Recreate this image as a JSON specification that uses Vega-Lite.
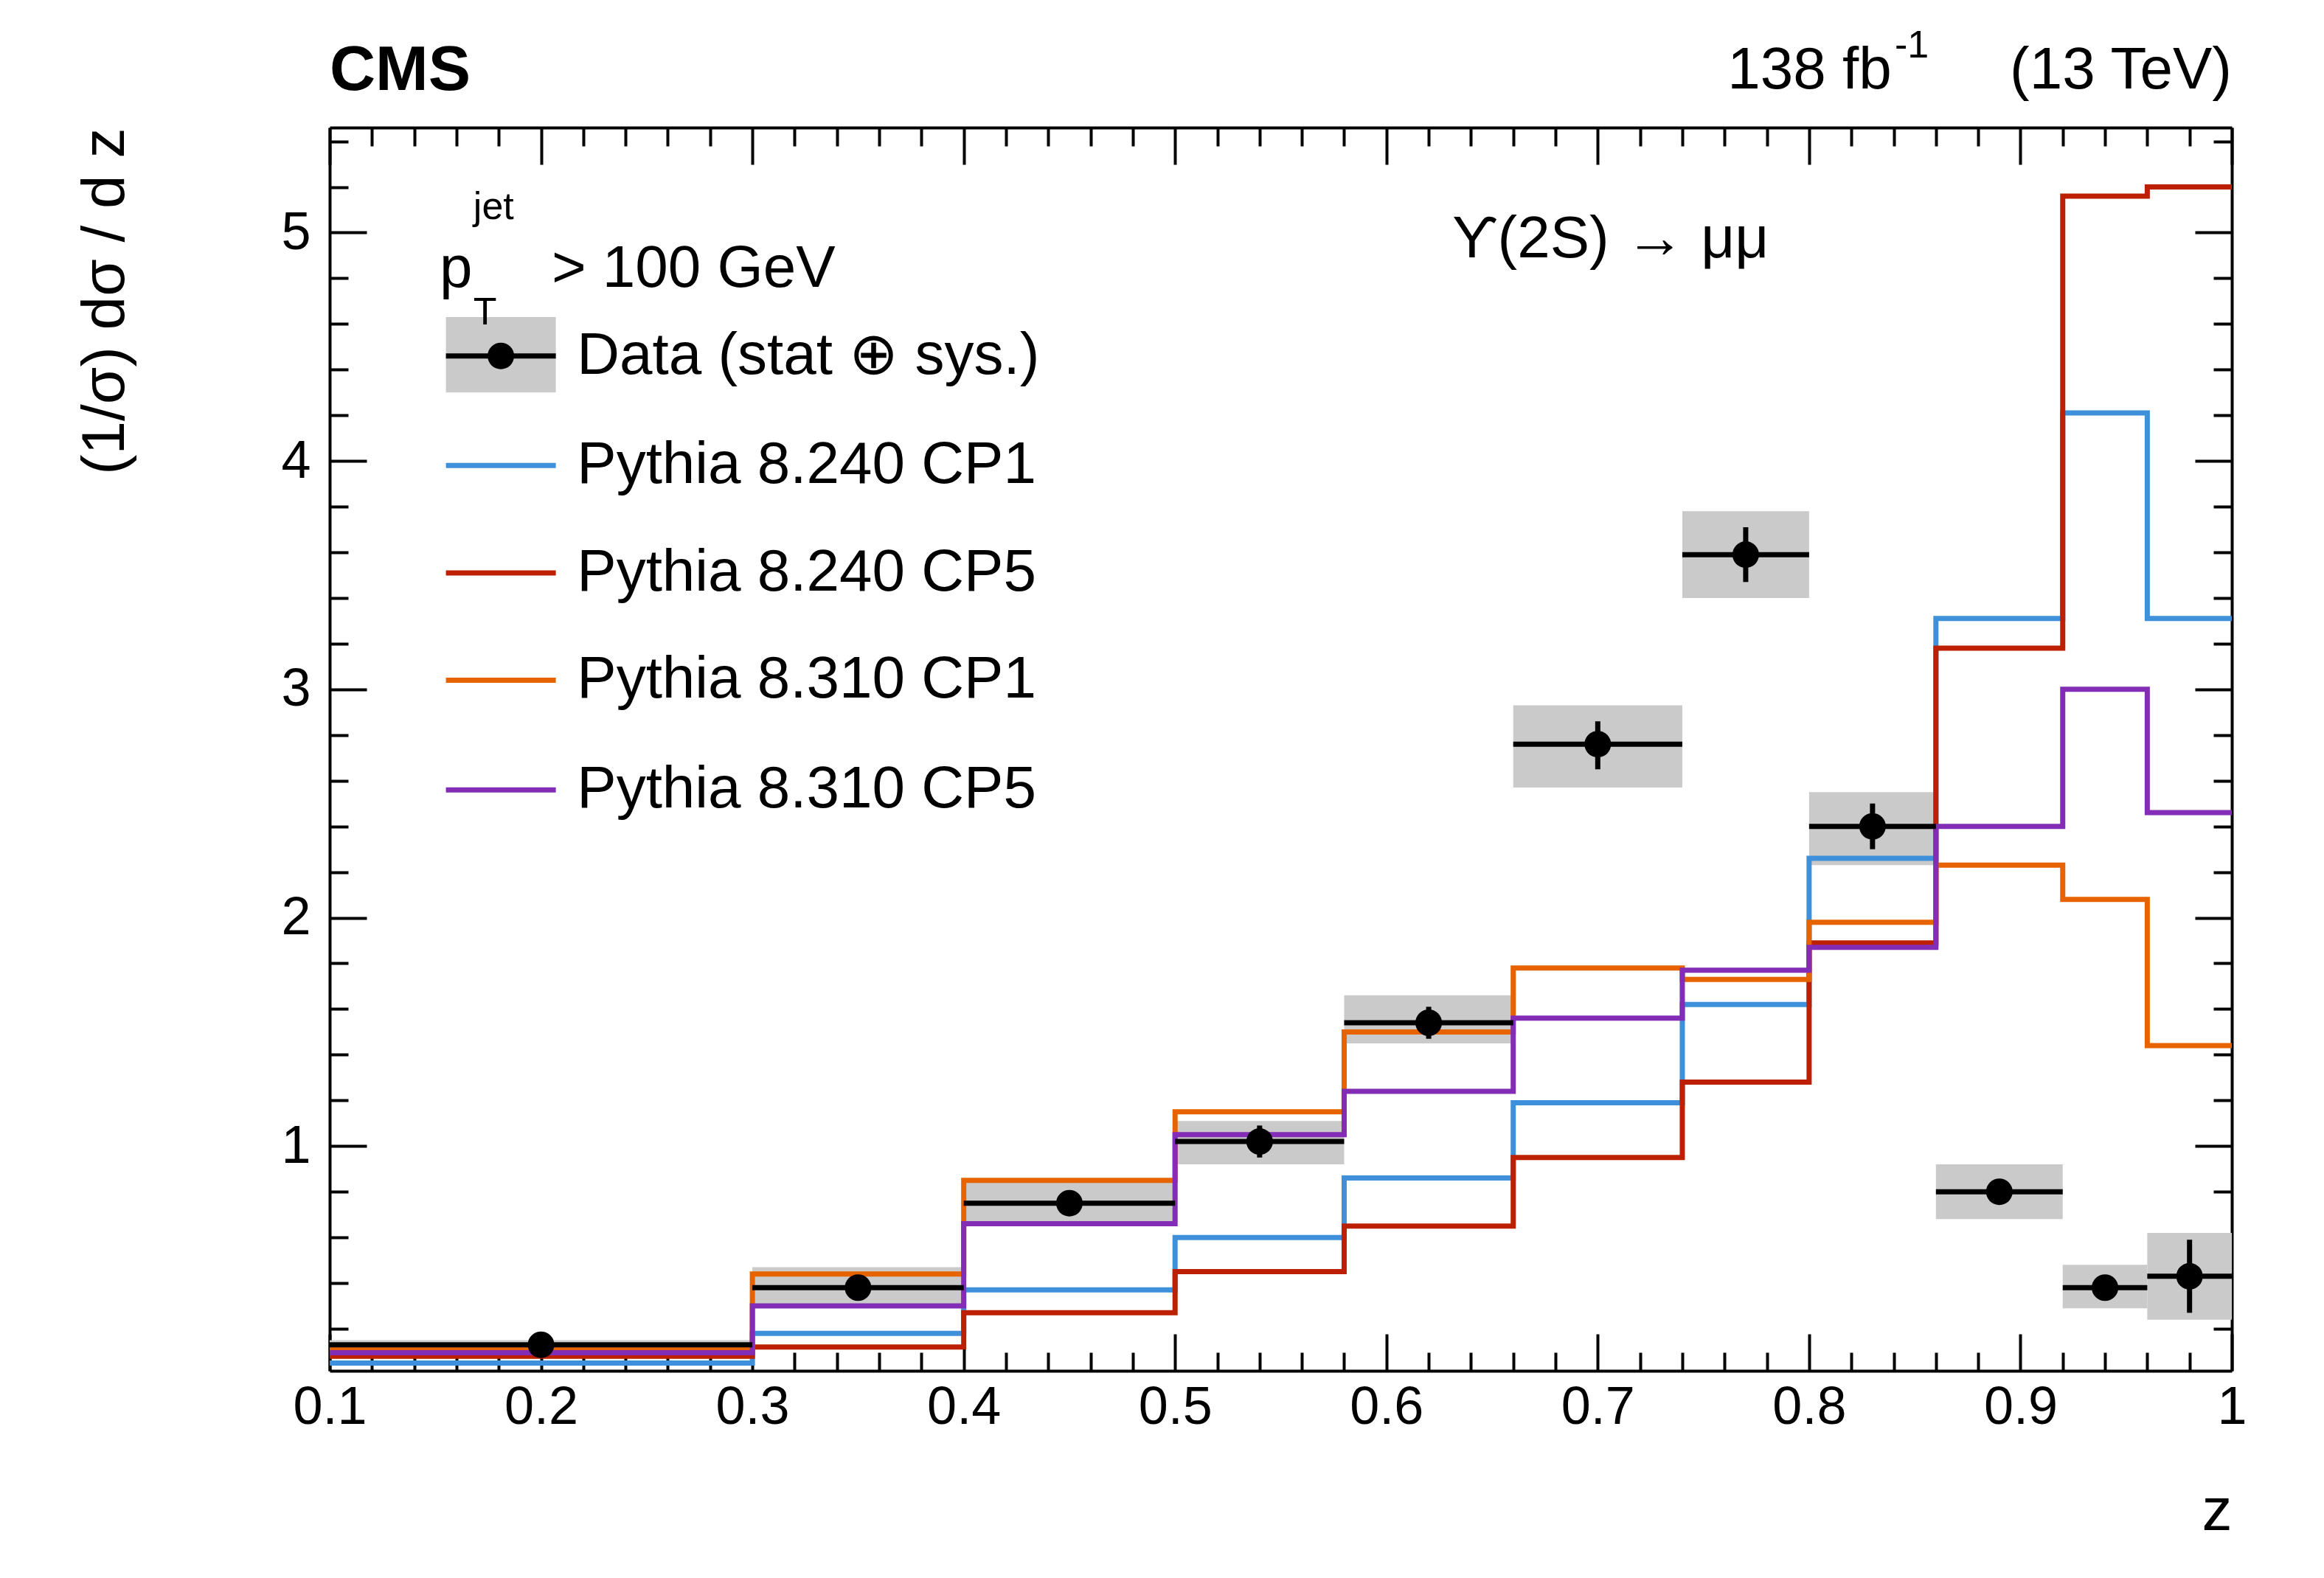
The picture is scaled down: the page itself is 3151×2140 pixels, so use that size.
{
  "$schema": "https://vega.github.io/schema/vega-lite/v6.json",
  "width": 2579,
  "height": 1686,
  "autosize": "none",
  "padding": {"left": 447, "top": 173, "right": 125, "bottom": 281},
  "background": "white",
  "config": {
    "font": "Liberation Sans",
    "view": {"stroke": null},
    "axis": {"domainColor": "black", "domainWidth": 4, "tickColor": "black", "tickWidth": 4, "grid": false, "labelFont": "Liberation Sans", "labelFontSize": 72, "labelColor": "black", "titleFont": "Liberation Sans", "titleColor": "black", "titleFontWeight": "normal", "titleFontSize": 82}
  },
  "datasets": {
    "data": [
      {"x": 0.2, "lo": 0.1, "hi": 0.3, "y": 0.13, "eLow": 0.09, "eHigh": 0.17, "bLow": 0.09, "bHigh": 0.15},
      {"x": 0.35, "lo": 0.3, "hi": 0.4, "y": 0.38, "eLow": 0.33, "eHigh": 0.43, "bLow": 0.3, "bHigh": 0.47},
      {"x": 0.45, "lo": 0.4, "hi": 0.5, "y": 0.75, "eLow": 0.7, "eHigh": 0.8, "bLow": 0.65, "bHigh": 0.85},
      {"x": 0.54, "lo": 0.5, "hi": 0.58, "y": 1.02, "eLow": 0.95, "eHigh": 1.09, "bLow": 0.92, "bHigh": 1.11},
      {"x": 0.62, "lo": 0.58, "hi": 0.66, "y": 1.54, "eLow": 1.47, "eHigh": 1.61, "bLow": 1.45, "bHigh": 1.66},
      {"x": 0.7, "lo": 0.66, "hi": 0.74, "y": 2.76, "eLow": 2.65, "eHigh": 2.86, "bLow": 2.57, "bHigh": 2.93},
      {"x": 0.77, "lo": 0.74, "hi": 0.8, "y": 3.59, "eLow": 3.47, "eHigh": 3.71, "bLow": 3.4, "bHigh": 3.78},
      {"x": 0.83, "lo": 0.8, "hi": 0.86, "y": 2.4, "eLow": 2.3, "eHigh": 2.5, "bLow": 2.23, "bHigh": 2.55},
      {"x": 0.89, "lo": 0.86, "hi": 0.92, "y": 0.8, "eLow": 0.75, "eHigh": 0.85, "bLow": 0.68, "bHigh": 0.92},
      {"x": 0.94, "lo": 0.92, "hi": 0.96, "y": 0.38, "eLow": 0.34, "eHigh": 0.42, "bLow": 0.29, "bHigh": 0.48},
      {"x": 0.98, "lo": 0.96, "hi": 1.0, "y": 0.43, "eLow": 0.27, "eHigh": 0.59, "bLow": 0.24, "bHigh": 0.62}
    ],
    "hist": [
      {"s": "Pythia 8.240 CP1", "x": 0.1, "y": 0.05}, {"s": "Pythia 8.240 CP1", "x": 0.3, "y": 0.18}, {"s": "Pythia 8.240 CP1", "x": 0.4, "y": 0.37}, {"s": "Pythia 8.240 CP1", "x": 0.5, "y": 0.6}, {"s": "Pythia 8.240 CP1", "x": 0.58, "y": 0.86}, {"s": "Pythia 8.240 CP1", "x": 0.66, "y": 1.19}, {"s": "Pythia 8.240 CP1", "x": 0.74, "y": 1.62}, {"s": "Pythia 8.240 CP1", "x": 0.8, "y": 2.26}, {"s": "Pythia 8.240 CP1", "x": 0.86, "y": 3.31}, {"s": "Pythia 8.240 CP1", "x": 0.92, "y": 4.21}, {"s": "Pythia 8.240 CP1", "x": 0.96, "y": 3.31}, {"s": "Pythia 8.240 CP1", "x": 1.0, "y": 3.31},
      {"s": "Pythia 8.240 CP5", "x": 0.1, "y": 0.08}, {"s": "Pythia 8.240 CP5", "x": 0.3, "y": 0.12}, {"s": "Pythia 8.240 CP5", "x": 0.4, "y": 0.27}, {"s": "Pythia 8.240 CP5", "x": 0.5, "y": 0.45}, {"s": "Pythia 8.240 CP5", "x": 0.58, "y": 0.65}, {"s": "Pythia 8.240 CP5", "x": 0.66, "y": 0.95}, {"s": "Pythia 8.240 CP5", "x": 0.74, "y": 1.28}, {"s": "Pythia 8.240 CP5", "x": 0.8, "y": 1.89}, {"s": "Pythia 8.240 CP5", "x": 0.86, "y": 3.18}, {"s": "Pythia 8.240 CP5", "x": 0.92, "y": 5.16}, {"s": "Pythia 8.240 CP5", "x": 0.96, "y": 5.2}, {"s": "Pythia 8.240 CP5", "x": 1.0, "y": 5.2},
      {"s": "Pythia 8.310 CP1", "x": 0.1, "y": 0.11}, {"s": "Pythia 8.310 CP1", "x": 0.3, "y": 0.44}, {"s": "Pythia 8.310 CP1", "x": 0.4, "y": 0.85}, {"s": "Pythia 8.310 CP1", "x": 0.5, "y": 1.15}, {"s": "Pythia 8.310 CP1", "x": 0.58, "y": 1.5}, {"s": "Pythia 8.310 CP1", "x": 0.66, "y": 1.78}, {"s": "Pythia 8.310 CP1", "x": 0.74, "y": 1.73}, {"s": "Pythia 8.310 CP1", "x": 0.8, "y": 1.98}, {"s": "Pythia 8.310 CP1", "x": 0.86, "y": 2.23}, {"s": "Pythia 8.310 CP1", "x": 0.92, "y": 2.08}, {"s": "Pythia 8.310 CP1", "x": 0.96, "y": 1.44}, {"s": "Pythia 8.310 CP1", "x": 1.0, "y": 1.44},
      {"s": "Pythia 8.310 CP5", "x": 0.1, "y": 0.095}, {"s": "Pythia 8.310 CP5", "x": 0.3, "y": 0.3}, {"s": "Pythia 8.310 CP5", "x": 0.4, "y": 0.66}, {"s": "Pythia 8.310 CP5", "x": 0.5, "y": 1.05}, {"s": "Pythia 8.310 CP5", "x": 0.58, "y": 1.24}, {"s": "Pythia 8.310 CP5", "x": 0.66, "y": 1.56}, {"s": "Pythia 8.310 CP5", "x": 0.74, "y": 1.77}, {"s": "Pythia 8.310 CP5", "x": 0.8, "y": 1.87}, {"s": "Pythia 8.310 CP5", "x": 0.86, "y": 2.4}, {"s": "Pythia 8.310 CP5", "x": 0.92, "y": 3.0}, {"s": "Pythia 8.310 CP5", "x": 0.96, "y": 2.46}, {"s": "Pythia 8.310 CP5", "x": 1.0, "y": 2.46}
    ],
    "legend": [
      {"s": "Pythia 8.240 CP1", "x1": 0.155, "x2": 0.207, "y": 3.98},
      {"s": "Pythia 8.240 CP5", "x1": 0.155, "x2": 0.207, "y": 3.51},
      {"s": "Pythia 8.310 CP1", "x1": 0.155, "x2": 0.207, "y": 3.04},
      {"s": "Pythia 8.310 CP5", "x1": 0.155, "x2": 0.207, "y": 2.56}
    ],
    "texts": [
      {"t": "Data (stat ⊕ sys.)", "x": 0.217, "y": 4.46, "size": 80, "align": "left"},
      {"t": "Pythia 8.240 CP1", "x": 0.217, "y": 3.98, "size": 80, "align": "left"},
      {"t": "Pythia 8.240 CP5", "x": 0.217, "y": 3.51, "size": 80, "align": "left"},
      {"t": "Pythia 8.310 CP1", "x": 0.217, "y": 3.04, "size": 80, "align": "left"},
      {"t": "Pythia 8.310 CP5", "x": 0.217, "y": 2.56, "size": 80, "align": "left"},
      {"t": "p", "x": 0.152, "y": 4.84, "size": 80, "align": "left"},
      {"t": "jet", "x": 0.168, "y": 5.11, "size": 52, "align": "left"},
      {"t": "T", "x": 0.168, "y": 4.65, "size": 52, "align": "left"},
      {"t": "> 100 GeV", "x": 0.205, "y": 4.84, "size": 80, "align": "left"},
      {"t": "ϒ(2S) → μμ", "x": 0.706, "y": 4.97, "size": 80, "align": "center"},
      {"t": "CMS", "x": 0.1, "y": 5.71, "size": 86, "align": "bold"},
      {"t": "138 fb", "x": 0.839, "y": 5.71, "size": 80, "align": "right"},
      {"t": "-1", "x": 0.8405, "y": 5.82, "size": 52, "align": "left"},
      {"t": "(13 TeV)", "x": 1.0, "y": 5.71, "size": 80, "align": "right"}
    ]
  },
  "layer": [
    {
      "data": {"name": "data"},
      "mark": {"type": "rect", "color": "#cacaca"},
      "encoding": {
        "x": {"field": "lo", "type": "quantitative", "scale": {"domain": [0.1, 1.0], "nice": false, "zero": false},
          "axis": {"orient": "bottom", "title": "z", "titleAlign": "right", "titleAnchor": "end", "titleX": 2579, "titleY": 215, "titleBaseline": "alphabetic", "format": ".1~f",
            "values": [0.1,0.12,0.14,0.16,0.18,0.2,0.22,0.24,0.26,0.28,0.3,0.32,0.34,0.36,0.38,0.4,0.42,0.44,0.46,0.48,0.5,0.52,0.54,0.56,0.58,0.6,0.62,0.64,0.66,0.68,0.7,0.72,0.74,0.76,0.78,0.8,0.82,0.84,0.86,0.88,0.9,0.92,0.94,0.96,0.98,1.0],
            "labelExpr": "abs(datum.value*10 - round(datum.value*10)) < 0.01 ? datum.label : ''",
            "tickSize": {"condition": {"test": "abs(datum.value*10 - round(datum.value*10)) < 0.01", "value": -50}, "value": -25},
            "labelPadding": 64, "labelFlush": false}},
        "x2": {"field": "hi"},
        "y": {"field": "bLow", "type": "quantitative", "scale": {"domain": [0.016, 5.46], "nice": false, "zero": false},
          "axis": {"orient": "left", "title": "(1/σ) dσ / d z", "titleAngle": -90, "titleX": -305, "titleY": 0, "titleAlign": "right", "titleBaseline": "middle", "format": "~g",
            "values": [0.2,0.4,0.6,0.8,1,1.2,1.4,1.6,1.8,2,2.2,2.4,2.6,2.8,3,3.2,3.4,3.6,3.8,4,4.2,4.4,4.6,4.8,5,5.2,5.4],
            "labelExpr": "abs(datum.value - round(datum.value)) < 0.01 ? datum.label : ''",
            "tickSize": {"condition": {"test": "abs(datum.value - round(datum.value)) < 0.01", "value": -50}, "value": -25},
            "labelPadding": 76}},
        "y2": {"field": "bHigh"}
      }
    },
    {
      "data": {"name": "hist"},
      "mark": {"type": "line", "interpolate": "step-after", "strokeWidth": 7},
      "encoding": {
        "x": {"field": "x", "type": "quantitative",
          "axis": {"orient": "top", "title": null, "labels": false,
            "values": [0.1,0.12,0.14,0.16,0.18,0.2,0.22,0.24,0.26,0.28,0.3,0.32,0.34,0.36,0.38,0.4,0.42,0.44,0.46,0.48,0.5,0.52,0.54,0.56,0.58,0.6,0.62,0.64,0.66,0.68,0.7,0.72,0.74,0.76,0.78,0.8,0.82,0.84,0.86,0.88,0.9,0.92,0.94,0.96,0.98,1.0],
            "tickSize": {"condition": {"test": "abs(datum.value*10 - round(datum.value*10)) < 0.01", "value": -50}, "value": -25}}},
        "y": {"field": "y", "type": "quantitative",
          "axis": {"orient": "right", "title": null, "labels": false,
            "values": [0.2,0.4,0.6,0.8,1,1.2,1.4,1.6,1.8,2,2.2,2.4,2.6,2.8,3,3.2,3.4,3.6,3.8,4,4.2,4.4,4.6,4.8,5,5.2,5.4],
            "tickSize": {"condition": {"test": "abs(datum.value - round(datum.value)) < 0.01", "value": -50}, "value": -25}}},
        "color": {"field": "s", "type": "nominal", "legend": null,
          "scale": {"domain": ["Pythia 8.240 CP1", "Pythia 8.240 CP5", "Pythia 8.310 CP1", "Pythia 8.310 CP5"], "range": ["#3f90da", "#bd1f01", "#e76300", "#832db6"]}}
      }
    },
    {
      "data": {"name": "data"},
      "mark": {"type": "rule", "color": "black", "strokeWidth": 7},
      "encoding": {
        "x": {"field": "lo", "type": "quantitative", "axis": null},
        "x2": {"field": "hi"},
        "y": {"field": "y", "type": "quantitative", "axis": null}
      }
    },
    {
      "data": {"name": "data"},
      "mark": {"type": "rule", "color": "black", "strokeWidth": 7},
      "encoding": {
        "x": {"field": "x", "type": "quantitative", "axis": null},
        "y": {"field": "eLow", "type": "quantitative", "axis": null},
        "y2": {"field": "eHigh"}
      }
    },
    {
      "data": {"name": "data"},
      "mark": {"type": "point", "filled": true, "color": "black", "opacity": 1, "size": 1300},
      "encoding": {
        "x": {"field": "x", "type": "quantitative", "axis": null},
        "y": {"field": "y", "type": "quantitative", "axis": null}
      }
    },
    {
      "data": {"values": [{"x1": 0.155, "x2": 0.207, "xm": 0.181, "y": 4.46, "yb": 4.3, "yt": 4.63}]},
      "layer": [
        {"mark": {"type": "rect", "color": "#cacaca"}, "encoding": {"x": {"field": "x1", "type": "quantitative", "axis": null}, "x2": {"field": "x2"}, "y": {"field": "yb", "type": "quantitative", "axis": null}, "y2": {"field": "yt"}}},
        {"mark": {"type": "rule", "color": "black", "strokeWidth": 7}, "encoding": {"x": {"field": "x1", "type": "quantitative", "axis": null}, "x2": {"field": "x2"}, "y": {"field": "y", "type": "quantitative", "axis": null}}},
        {"mark": {"type": "point", "filled": true, "color": "black", "opacity": 1, "size": 1300}, "encoding": {"x": {"field": "xm", "type": "quantitative", "axis": null}, "y": {"field": "y", "type": "quantitative", "axis": null}}}
      ]
    },
    {
      "data": {"name": "legend"},
      "mark": {"type": "rule", "strokeWidth": 7},
      "encoding": {
        "x": {"field": "x1", "type": "quantitative", "axis": null},
        "x2": {"field": "x2"},
        "y": {"field": "y", "type": "quantitative", "axis": null},
        "color": {"field": "s", "type": "nominal", "legend": null}
      }
    },
    {
      "data": {"name": "texts"},
      "transform": [{"filter": "datum.align === 'left'"}],
      "mark": {"type": "text", "baseline": "middle", "align": "left", "color": "black", "font": "Liberation Sans"},
      "encoding": {
        "x": {"field": "x", "type": "quantitative", "axis": null},
        "y": {"field": "y", "type": "quantitative", "axis": null},
        "text": {"field": "t"},
        "size": {"field": "size", "type": "quantitative", "scale": null}
      }
    },
    {
      "data": {"name": "texts"},
      "transform": [{"filter": "datum.align === 'right'"}],
      "mark": {"type": "text", "baseline": "middle", "align": "right", "color": "black", "font": "Liberation Sans"},
      "encoding": {
        "x": {"field": "x", "type": "quantitative", "axis": null},
        "y": {"field": "y", "type": "quantitative", "axis": null},
        "text": {"field": "t"},
        "size": {"field": "size", "type": "quantitative", "scale": null}
      }
    },
    {
      "data": {"name": "texts"},
      "transform": [{"filter": "datum.align === 'center'"}],
      "mark": {"type": "text", "baseline": "middle", "align": "center", "color": "black", "font": "Liberation Sans"},
      "encoding": {
        "x": {"field": "x", "type": "quantitative", "axis": null},
        "y": {"field": "y", "type": "quantitative", "axis": null},
        "text": {"field": "t"},
        "size": {"field": "size", "type": "quantitative", "scale": null}
      }
    },
    {
      "data": {"name": "texts"},
      "transform": [{"filter": "datum.align === 'bold'"}],
      "mark": {"type": "text", "baseline": "middle", "align": "left", "fontWeight": "bold", "color": "black", "font": "Liberation Sans"},
      "encoding": {
        "x": {"field": "x", "type": "quantitative", "axis": null},
        "y": {"field": "y", "type": "quantitative", "axis": null},
        "text": {"field": "t"},
        "size": {"field": "size", "type": "quantitative", "scale": null}
      }
    }
  ],
  "resolve": {"axis": {"x": "independent", "y": "independent"}}
}
